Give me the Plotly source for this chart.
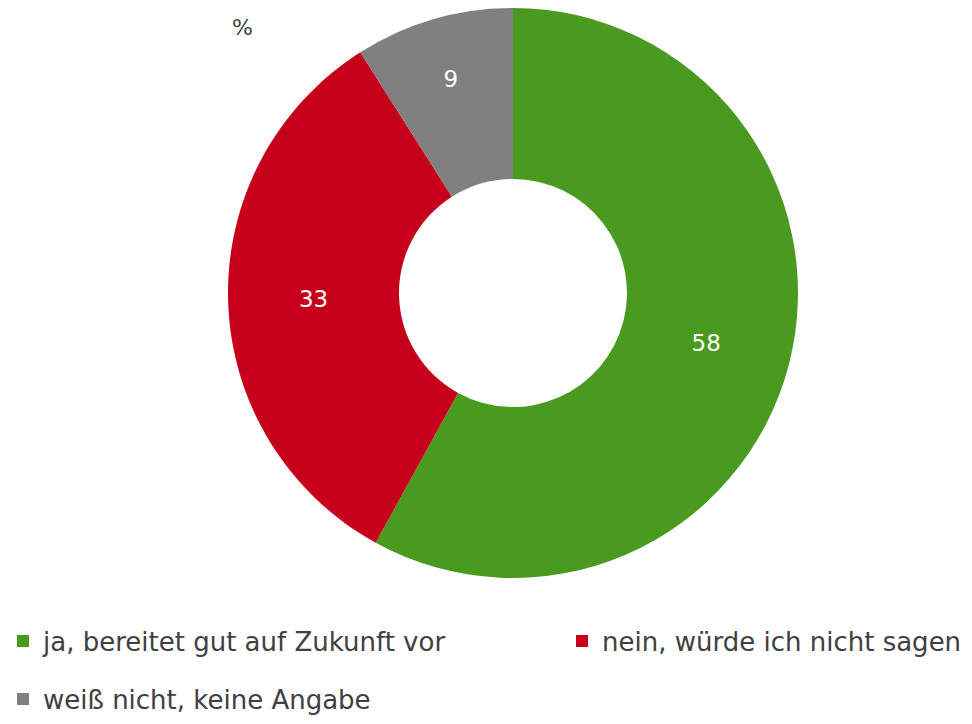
import plotly.graph_objects as go

labels = ["ja, bereitet gut auf Zukunft vor", "nein, würde ich nicht sagen", "weiß nicht, keine Angabe"]
values = [58, 33, 9]
colours = ["#4a9a20", "#c6001a", "#808080"]

OFF = 8  # page body margin in the browser
W, H = 972 - 2 * OFF, 724 - 2 * OFF
cx, cy, r = 513 - OFF, 293 - OFF, 285

fig = go.Figure(go.Pie(
    labels=labels,
    values=values,
    hole=0.4,
    sort=False,
    direction="clockwise",
    rotation=0,
    marker=dict(colors=colours, line=dict(width=0)),
    textinfo="value",
    textposition="inside",
    insidetextorientation="horizontal",
    textfont=dict(color="white", size=23, family="DejaVu Sans"),
    domain=dict(x=[(cx - r) / W, (cx + r) / W], y=[(H - cy - r) / H, (H - cy + r) / H]),
    showlegend=False,
))

# legend entries: one small legend per entry so they sit like the original
legend_names = ["legend", "legend2", "legend3"]
legend_pos = [(3, 641), (562, 641), (3, 699)]  # screen px of entry start / row centre
for lab, col, lg in zip(labels, colours, legend_names):
    fig.add_trace(go.Scatter(
        x=[None], y=[None], mode="markers", name=lab,
        marker=dict(symbol="square", size=12, color=col),
        legend=lg, hoverinfo="skip",
    ))

legend_font = dict(size=26, color="#404040", family="DejaVu Sans")
legend_layout = {}
for lg, (lx, ly) in zip(legend_names, legend_pos):
    legend_layout[lg] = dict(
        x=(lx - OFF) / W, xanchor="left",
        y=1 - (ly - OFF) / H, yanchor="middle",
        font=legend_font, bgcolor="rgba(0,0,0,0)", itemwidth=30,
    )

fig.add_annotation(
    x=(242 - OFF) / W, y=1 - (27 - OFF) / H, xref="paper", yref="paper",
    xanchor="center", yanchor="middle",
    text="%", showarrow=False,
    font=dict(size=22, color="#404040", family="DejaVu Sans"),
)

fig.update_layout(
    width=W,
    height=H,
    margin=dict(l=0, r=0, t=0, b=0, autoexpand=False),
    paper_bgcolor="white",
    plot_bgcolor="white",
    showlegend=True,
    xaxis=dict(visible=False),
    yaxis=dict(visible=False),
    **legend_layout,
)

fig.write_html("out.html")
